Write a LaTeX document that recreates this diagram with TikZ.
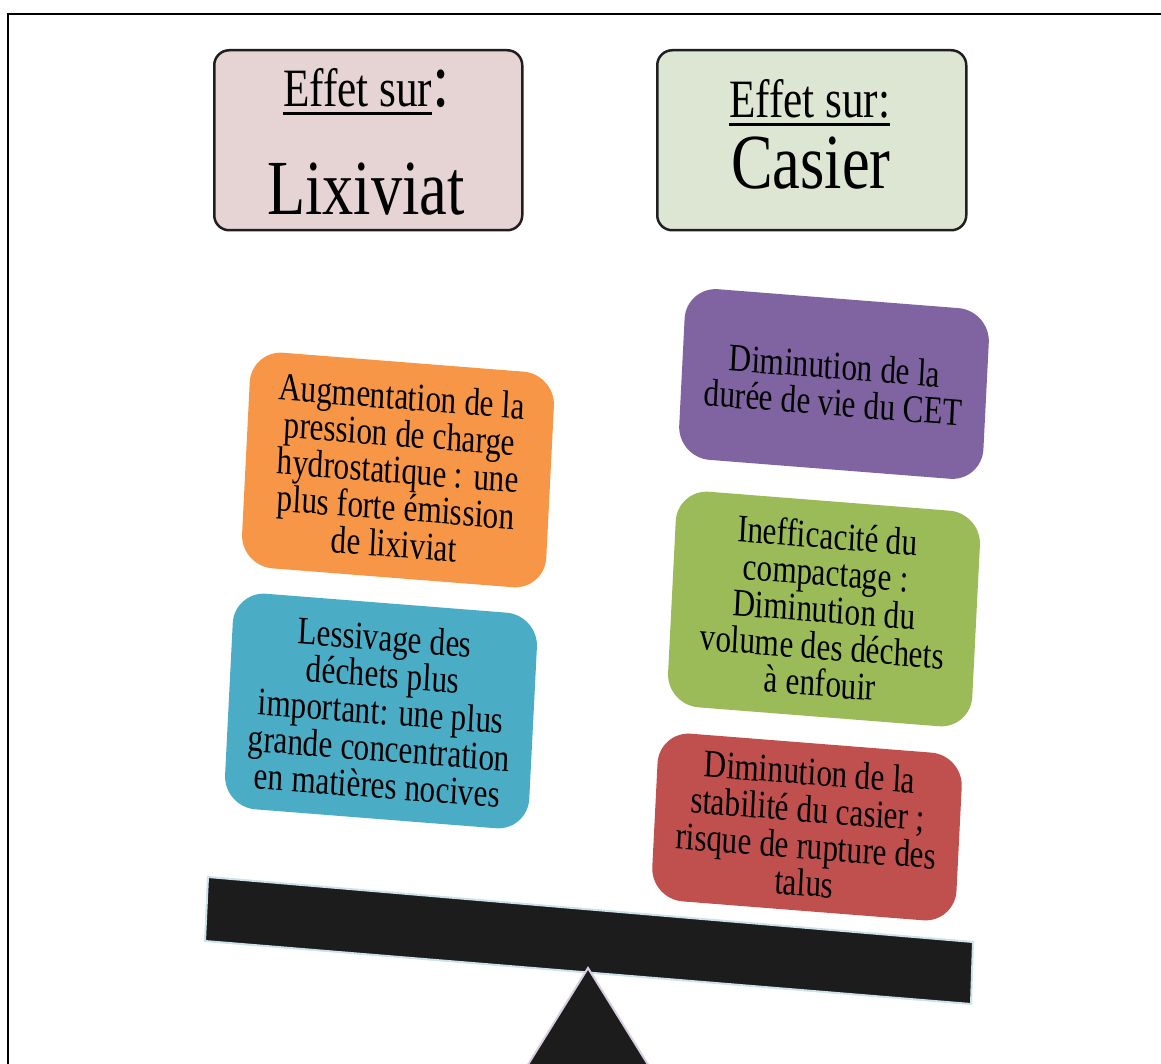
\documentclass[tikz,border=0pt]{standalone}
\usepackage{fontspec}
\setmainfont{Liberation Serif}
% underlined heading word with a heavy rule
\newcommand\effetline[1]{\setbox0\hbox{#1}\rlap{\rule[-8pt]{\wd0}{2.5pt}}\box0}
\definecolor{pinkfill}{RGB}{230,212,212}
\definecolor{sagefill}{RGB}{221,230,210}
\definecolor{cardorange}{HTML}{F79646}
\definecolor{cardblue}{HTML}{4BACC6}
\definecolor{cardpurple}{HTML}{8064A2}
\definecolor{cardgreen}{HTML}{9BBB59}
\definecolor{cardred}{HTML}{C0504D}
\definecolor{beamfill}{RGB}{28,28,28}
\definecolor{beamedge}{RGB}{205,225,232}
\definecolor{pivotedge}{RGB}{215,205,225}
\begin{document}
\begin{tikzpicture}[x=1pt,y=-1pt,
  titlebox/.style={draw=black!88, line width=2.5pt, rounded corners=15pt,
    inner sep=0pt, anchor=north west},
  headtext/.style={xscale=0.8, inner sep=0pt, text=black},
  card/.style={xscale=0.8, rotate=-3.6, rounded corners=32pt,
    minimum width=381pt, inner sep=0pt, align=center, text=black,
    font=\fontsize{39}{37}\selectfont},
]
\useasboundingbox (0,0) rectangle (1161,1064);
\clip (0,0) rectangle (1161,1064);

% outer frame
\draw[line width=2.3pt] (8,1080) -- (8,14) -- (1180,14);

% headings
\node[titlebox, fill=pinkfill, minimum width=308pt, minimum height=180pt]
  (lixbox) at (213,49) {};
\node[titlebox, fill=sagefill, minimum width=309pt, minimum height=180pt]
  (casbox) at (656,49) {};

\node[headtext, anchor=base west, font=\fontsize{54}{54}\selectfont]
  (lixhead) at (283,107) {\effetline{Effet sur}{\fontsize{78}{78}\selectfont:}};
\node[headtext, anchor=base, font=\fontsize{78}{78}\selectfont]
  (lixword) at (366,215) {Lixiviat};
\node[headtext, anchor=base west, font=\fontsize{54}{54}\selectfont]
  (cashead) at (729,118) {\effetline{Effet sur:}};
\node[headtext, anchor=base, font=\fontsize{78}{78}\selectfont]
  (casword) at (811,189) {Casier};

% effect cards
\node[card, fill=cardorange, minimum height=216pt] (pression) at (398,470)
  {Augmentation de la\\pression de charge\\hydrostatique : une\\plus forte émission\\de lixiviat};
\node[card, fill=cardblue, minimum height=216pt] (lessivage) at (381,711)
  {Lessivage des\\déchets plus\\important: une plus\\grande concentration\\en matières nocives};
\node[card, fill=cardpurple, minimum height=171pt] (duree) at (834,384)
  {Diminution de la\\durée de vie du CET};
\node[card, fill=cardgreen, minimum height=216pt] (compactage) at (824,609)
  {Inefficacité du\\compactage :\\Diminution du\\volume des déchets\\à enfouir};
\node[card, fill=cardred, minimum height=168pt] (stabilite) at (807,827)
  {Diminution de la\\stabilité du casier ;\\risque de rupture des\\talus};

% balance beam and pivot
\coordinate (beamTL) at (208,877);
\coordinate (beamTR) at (973,942);
\coordinate (beamBR) at (971,1004);
\coordinate (beamBL) at (205,941);
\fill[beamfill, draw=beamedge, line width=2pt]
  (beamTL) -- (beamTR) -- (beamBR) -- (beamBL) -- cycle;

\coordinate (apex) at (588,968);
\coordinate (footL) at (506,1100);
\coordinate (footR) at (670,1100);
\fill[beamfill, draw=pivotedge, line width=2pt]
  (footL) -- (apex) -- (footR) -- cycle;
\end{tikzpicture}
\end{document}
